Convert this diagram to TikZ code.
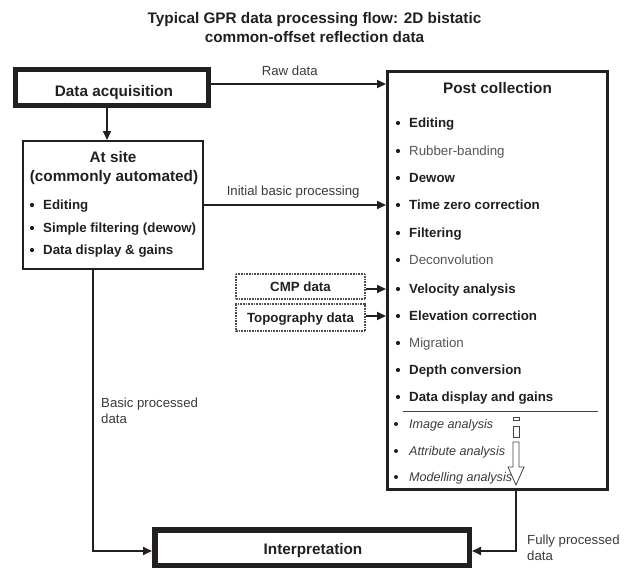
\documentclass[tikz,border=0pt]{standalone}
\usepackage{fontspec}
\setmainfont{Liberation Sans}
\usetikzlibrary{arrows.meta}
\definecolor{ink}{HTML}{231F20}
\definecolor{soft}{HTML}{555555}
\definecolor{lab}{HTML}{3A3A3A}
\tikzset{
  conn/.style={draw=ink, line width=1.8pt, -{Triangle[length=9pt,width=8pt]}},
  txt/.style={inner sep=0pt},
  head/.style={txt, text height=11pt, text depth=0pt, font=\fontsize{15.3}{18.5}\selectfont\bfseries, text=ink},
  strong/.style={txt, text height=9.6pt, text depth=0pt, font=\fontsize{13.3}{16}\selectfont\bfseries, text=ink},
  weak/.style={txt, text height=9.6pt, text depth=0pt, font=\fontsize{13.3}{16}\selectfont, text=soft},
  slant/.style={txt, text height=9.1pt, text depth=0pt, font=\fontsize{12.6}{15}\selectfont\itshape, text=lab},
  lab/.style={txt, font=\fontsize{13.2}{16}\selectfont, text=lab},
  heavybox/.style={draw=ink, inner sep=0pt},
  srcbox/.style={draw=ink!80, line width=1.6pt, dash pattern=on 1pt off 0.6pt, inner sep=0pt},
  hollow/.style={draw=ink!85, line width=0.8pt, fill=white},
  dot/.style={fill=ink},
}
\begin{document}
\begin{tikzpicture}[x=1pt,y=-1pt]
\useasboundingbox (0,0) rectangle (629,570);

% title
\node[txt, align=center, anchor=north, font=\fontsize{15.3}{18.5}\selectfont\bfseries, text=ink] (title) at (314.5,12.5)
  {Typical GPR data processing flow: 2D bistatic\\common-offset reflection data};

% main boxes
\node[heavybox, line width=5pt, minimum width=193pt, minimum height=36pt] (acq) at (112,87.5) {};
\node[head] (acqt) at (114,90.5) {Data acquisition};

\node[heavybox, line width=2.2pt, minimum width=179.8pt, minimum height=127.8pt] (site) at (113,205) {};
\node[head] (sitet1) at (113,157) {At site};
\node[head] (sitet2) at (114,176) {(commonly automated)};

\node[heavybox, line width=3pt, minimum width=220pt, minimum height=418pt] (post) at (497.5,280.5) {};
\node[head] (postt) at (497.5,88) {Post collection};

\node[heavybox, line width=5.5pt, minimum width=314.5pt, minimum height=35.5pt] (interp) at (312,547.5) {};
\node[head] (interpt) at (313,549) {Interpretation};

% at-site steps
\foreach \n/\y/\t in {s1/205/Editing, s2/228/Simple filtering (dewow), s3/250/Data display \& gains}{
  \fill[dot] (32,\y) circle (2.1pt);
  \node[strong, anchor=west] (\n) at (43,\y) {\t};
}

% post-collection steps
\foreach \n/\y/\s/\t in {e1/123/strong/Editing, e2/151/weak/Rubber-banding, e3/178/strong/Dewow,
    tz/205/strong/Time zero correction, e5/233/strong/Filtering, e6/260/weak/Deconvolution,
    vel/289/strong/Velocity analysis, elev/316/strong/Elevation correction, e9/343/weak/Migration,
    e10/370/strong/Depth conversion, e11/397/strong/Data display and gains}{
  \fill[dot] (398,\y) circle (2.1pt);
  \node[\s, anchor=west] (\n) at (409,\y) {\t};
}
\draw[draw=ink!85, line width=1pt] (403,411) -- (598,411);
\foreach \n/\y/\t in {i1/424/Image analysis, i2/451/Attribute analysis, i3/477/Modelling analysis}{
  \fill[dot] (396,\y) circle (2pt);
  \node[slant, anchor=west] (\n) at (409,\y) {\t};
}

% open arrow beside the analysis steps
\draw[hollow] (513,417) rectangle (519,420);
\draw[hollow] (513,426) rectangle (519,437);
\draw[hollow] (513,442) -- (513,467) -- (508,467) -- (516,485) -- (524,467) -- (519,467) -- (519,442) -- cycle;

% extra data sources
\node[srcbox, strong, minimum width=129.5pt, minimum height=25.5pt] (cmp) at (300.5,286.5) {CMP data};
\node[srcbox, strong, minimum width=129.5pt, minimum height=27.5pt] (topo) at (300.5,317.5) {Topography data};

% connectors
\draw[conn] ([yshift=3.5pt]acq.east) -- ([yshift=3.5pt]acq.east -| post.west)
  node[lab, pos=0.45, anchor=south, yshift=7pt] (rawl) {Raw data};
\draw[conn] ([xshift=-5pt]acq.south) -- ([xshift=-5pt]acq.south |- site.north);
\draw[conn] (site.east |- tz) -- (post.west |- tz)
  node[lab, pos=0.49, anchor=south, yshift=6pt] (initl) {Initial basic processing};
\draw[conn] (cmp.east |- vel) -- (post.west |- vel);
\draw[conn] (topo.east |- elev) -- (post.west |- elev);
\draw[conn] ([xshift=-20pt]site.south) |- ([yshift=-3.5pt]interp.west);
\draw[conn] ([xshift=18.5pt]post.south) |- ([yshift=-3.5pt]interp.east);

% connector labels
\node[lab, align=left, anchor=north west] (basicl) at (101,398) {Basic processed\\data};
\node[lab, align=left, anchor=north west] (fulll) at (527,535) {Fully processed\\data};
\end{tikzpicture}
\end{document}
